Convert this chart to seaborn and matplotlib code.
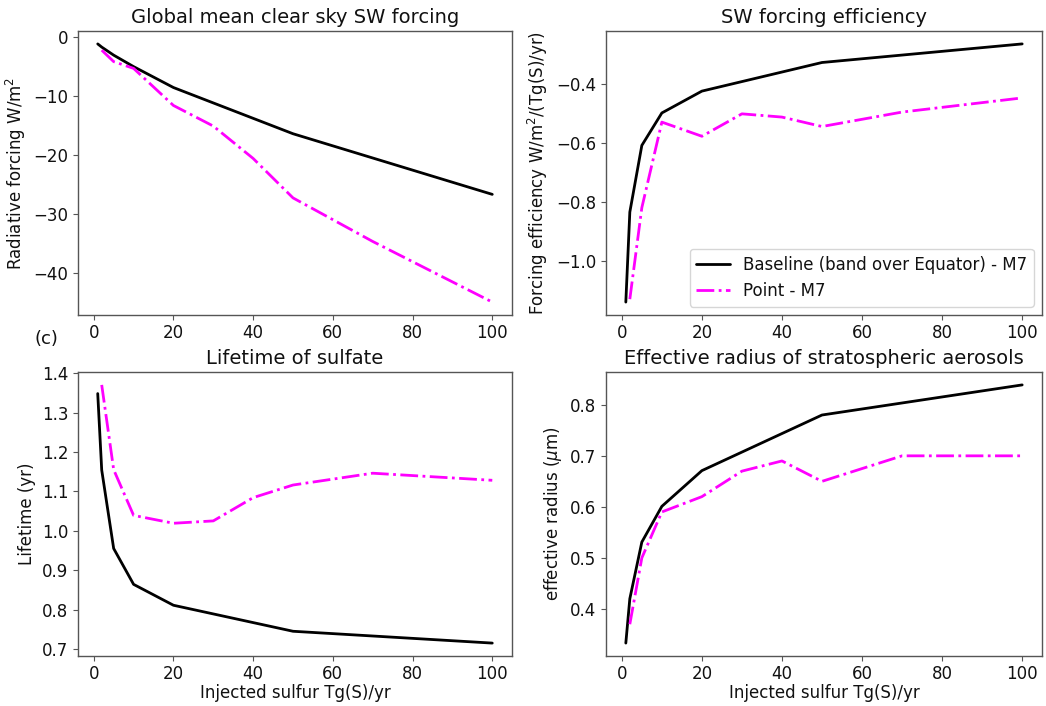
import numpy as np
import pandas as pd
import matplotlib
matplotlib.use("Agg")
import matplotlib.pyplot as plt
import seaborn as sns

# Data
x_base = [1, 2, 5, 10, 20, 50, 100]
x_point = [2, 5, 10, 20, 30, 40, 50, 70, 100]

forcing_base = [-1.14, -1.68, -3.05, -5.0, -8.55, -16.4, -26.7]
forcing_point = [-2.2, -4.15, -5.3, -11.6, -15.1, -20.6, -27.3, -34.7, -45.0]

eff_base = [-1.14, -0.835, -0.609, -0.499, -0.425, -0.328, -0.265]
eff_point = [-1.13, -0.82, -0.53, -0.578, -0.502, -0.513, -0.545, -0.496, -0.448]

life_base = [1.348, 1.154, 0.955, 0.864, 0.811, 0.745, 0.715]
life_point = [1.37, 1.155, 1.039, 1.019, 1.025, 1.084, 1.116, 1.146, 1.128]

reff_base = [0.333, 0.42, 0.531, 0.601, 0.671, 0.780, 0.839]
reff_point = [0.37, 0.50, 0.59, 0.62, 0.67, 0.69, 0.65, 0.70, 0.70]

label_base = "Baseline (band over Equator) - M7"
label_point = "Point - M7"

sns.set_style("ticks")
plt.rcParams['font.family'] = ['DejaVu Sans']
plt.rcParams['axes.edgecolor'] = '#555555'
plt.rcParams['xtick.color'] = '#555555'
plt.rcParams['ytick.color'] = '#555555'
plt.rcParams['xtick.labelcolor'] = '#111111'
plt.rcParams['ytick.labelcolor'] = '#111111'
plt.rcParams['axes.labelcolor'] = '#111111'
plt.rcParams['text.color'] = '#111111'
plt.rcParams['axes.linewidth'] = 1.0
plt.rcParams['xtick.major.size'] = 3.5
plt.rcParams['ytick.major.size'] = 3.5
plt.rcParams['xtick.major.width'] = 0.8
plt.rcParams['ytick.major.width'] = 0.8
plt.rcParams['xtick.major.pad'] = 3.0
plt.rcParams['ytick.major.pad'] = 3.5
plt.rcParams['axes.labelpad'] = 4.0
plt.rcParams['axes.titlepad'] = 6.0

fig = plt.figure(figsize=(10.46, 7.06), dpi=100)
W, H = 1046, 706

def ax_at(l, t, r, b):
    return fig.add_axes([l / W, 1 - b / H, (r - l) / W, (b - t) / H])

ax1 = ax_at(78, 31, 512, 315)
ax2 = ax_at(606, 31, 1042, 315)
ax3 = ax_at(78, 372, 512, 656)
ax4 = ax_at(606, 372, 1042, 656)

panels = [
    (ax1, forcing_base, forcing_point, "Global mean clear sky SW forcing", "Radiative forcing W/m$^2$"),
    (ax2, eff_base, eff_point, "SW forcing efficiency", "Forcing efficiency W/m$^2$/(Tg(S)/yr)"),
    (ax3, life_base, life_point, "Lifetime of sulfate", "Lifetime (yr)"),
    (ax4, reff_base, reff_point, "Effective radius of stratospheric aerosols", "effective radius ($\\mu$m)"),
]

for ax, yb, yp, title, ylab in panels:
    sns.lineplot(x=x_base, y=yb, ax=ax, color='black', linewidth=2, label=label_base, legend=False)
    sns.lineplot(x=x_point, y=yp, ax=ax, color='magenta', linewidth=2, linestyle='-.', label=label_point, legend=False)
    ax.set_title(title, fontsize=14)
    ax.set_ylabel(ylab, fontsize=12)
    ax.tick_params(labelsize=12)
    for s in ax.spines.values():
        s.set_visible(True)
    ax.set_xticks([0, 20, 40, 60, 80, 100])

ax1.set_yticks([0, -10, -20, -30, -40])
ax2.set_yticks([-0.4, -0.6, -0.8, -1.0])
ax3.set_yticks([0.7, 0.8, 0.9, 1.0, 1.1, 1.2, 1.3, 1.4])
ax4.set_yticks([0.4, 0.5, 0.6, 0.7, 0.8])

ax3.set_xlabel("Injected sulfur Tg(S)/yr", fontsize=12, labelpad=1)
ax4.set_xlabel("Injected sulfur Tg(S)/yr", fontsize=12, labelpad=1)

ax2.legend(loc='lower right', fontsize=12, frameon=True)

fig.text(35 / W, 1 - 339 / H, "(c)", fontsize=13, va='center', ha='left')

fig.savefig("out.png", dpi=100)
